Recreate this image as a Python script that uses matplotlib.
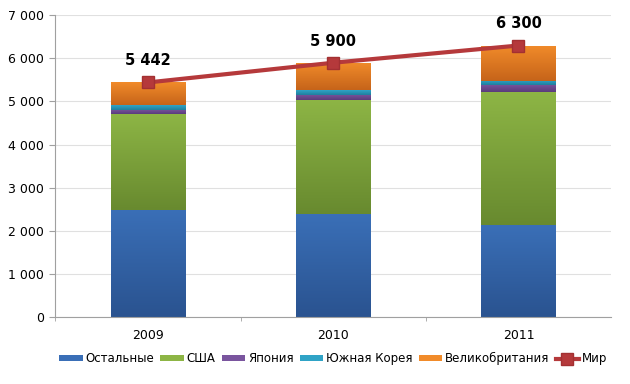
import numpy as np
import matplotlib.pyplot as plt
from matplotlib.colors import LinearSegmentedColormap

years = ["2009", "2010", "2011"]
ostalnye = [2490, 2380, 2130]
ssha = [2210, 2660, 3080]
yaponiya = [110, 120, 170]
koreya = [100, 110, 100]
britain = [532, 630, 820]
mir = [5442, 5900, 6300]

series = [
    ("Остальные", ostalnye, "#3a6fb7", "#2a5390"),
    ("США", ssha, "#8db545", "#688a2f"),
    ("Япония", yaponiya, "#7a559e", "#5a3c7c"),
    ("Южная Корея", koreya, "#2fa3c6", "#1f7f9d"),
    ("Великобритания", britain, "#f18b2a", "#c6641a"),
]

fig, ax = plt.subplots(figsize=(6.3, 3.84), dpi=100)
fig.subplots_adjust(left=0.088, right=0.97, top=0.96, bottom=0.175)

x = np.arange(len(years))
bottom = np.zeros(len(years))
grad = np.linspace(1, 0, 100).reshape(-1, 1)
for name, vals, top_c, bot_c in series:
    bars = ax.bar(x, vals, 0.4, bottom=bottom, color=top_c, label=name, zorder=2)
    cmap = LinearSegmentedColormap.from_list(name, [bot_c, top_c])
    for b in bars:
        x0, y0 = b.get_x(), b.get_y()
        im = ax.imshow(grad, cmap=cmap, aspect="auto", zorder=2.1,
                       extent=[x0, x0 + b.get_width(), y0, y0 + b.get_height()])
        im.set_clip_path(b)
    bottom += np.array(vals)

ax.plot(x, mir, color="#b5393b", lw=3, marker="s", ms=9,
        mfc="#b5393b", mec="#a33032", label="Мир", zorder=4)
for xi, v in zip(x, mir):
    ax.text(xi, v + 330, f"{v:,}".replace(",", " "), ha="center", va="bottom",
            fontsize=10.5, fontweight="bold", zorder=5)

ax.set_xlim(-0.5, 2.5)
ax.set_ylim(0, 7000)
ax.set_yticks(range(0, 7001, 1000))
ax.set_yticklabels([f"{v:,}".replace(",", " ") for v in range(0, 7001, 1000)])
ax.set_xticks(x)
ax.set_xticklabels(years)
ax.set_xticks([-0.5, 0.5, 1.5], minor=True)
ax.tick_params(axis="x", which="major", length=0, pad=9)
ax.tick_params(axis="x", which="minor", length=3, color="#a0a0a0")
ax.tick_params(axis="y", length=4, color="#a0a0a0", pad=4)
ax.tick_params(labelsize=9)
ax.grid(axis="y", color="#e0e0e0", lw=0.8, zorder=0)
ax.set_axisbelow(True)
for s in ["top", "right"]:
    ax.spines[s].set_visible(False)
for s in ["left", "bottom"]:
    ax.spines[s].set_color("#a0a0a0")

handles, labels = ax.get_legend_handles_labels()
order = [1, 2, 3, 4, 5, 0]
ax.legend([handles[i] for i in order], [labels[i] for i in order],
          loc="upper center", bbox_to_anchor=(0.5, -0.09), ncol=6, frameon=False,
          fontsize=8.5, handlelength=2.0, handleheight=0.4, columnspacing=0.5,
          handletextpad=0.25, borderpad=0.2)

fig.savefig("out.png")
